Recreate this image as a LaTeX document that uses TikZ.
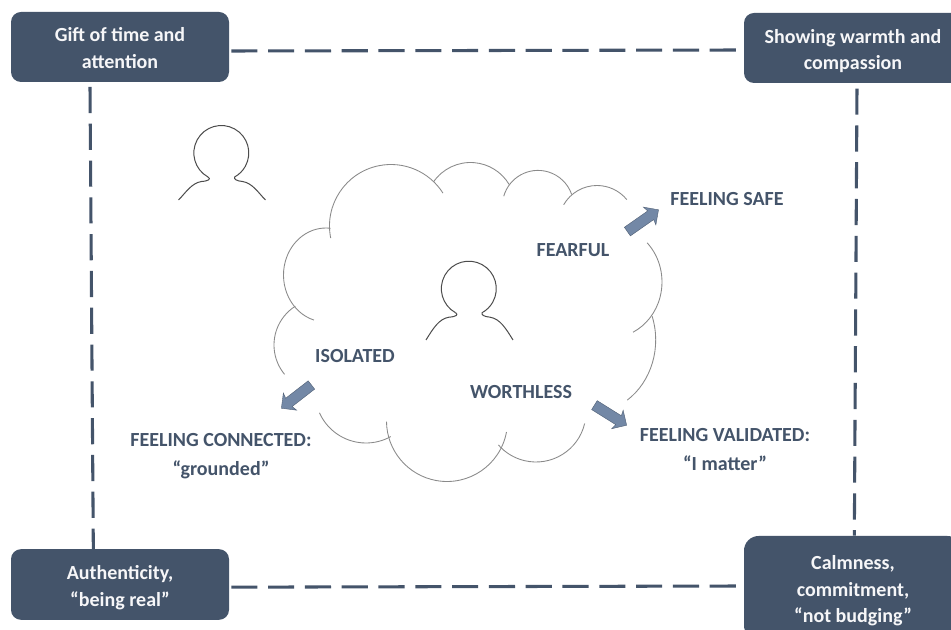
\documentclass[tikz,border=0pt]{standalone}
\usepackage{fontspec}
\setmainfont{Carlito}
\usetikzlibrary{shapes.arrows}
\definecolor{navy}{HTML}{44546A}
\definecolor{arrowblue}{HTML}{7388A6}
\definecolor{cloudline}{HTML}{8A8A8A}
\newcommand\lobe[6]{\draw[cloud] (#1,#2) ++(#5:#3 and #4) arc[start angle=#5,end angle=#6,x radius=#3,y radius=#4];}
\tikzset{
  x=0.75pt,y=-0.75pt,
  box/.style={draw=none,fill=navy,rounded corners=7.5pt,inner sep=0pt,minimum width=163.5pt},
  boxtext/.style={inner sep=0pt,text=white!95!navy,align=center,font=\fontsize{15}{20}\selectfont\bfseries},
  label/.style={text=navy,align=center,inner sep=0pt,font=\fontsize{15}{21.75}\selectfont\bfseries},
  link/.style={draw=navy,line width=2.3pt,dash pattern=on 19.6pt off 8pt},
  cloud/.style={draw=cloudline,line width=0.65pt},
  head/.style={draw=black!70,line width=0.75pt,line join=round},
  blockarrow/.style={single arrow,fill=arrowblue,draw=arrowblue!70!black,line width=0.3pt,inner sep=3.8pt,single arrow head extend=4.2pt,single arrow head indent=1pt,minimum height=28.5pt,minimum width=16pt},
  person/.pic={
    \draw[head] (-14.5,26) arc[start angle=241,end angle=-61,radius=20.6pt]
      .. controls (11,28) and (14,30) .. (20,30.5)
      .. controls (30,32) and (36,42) .. (43,#1);
    \draw[head] (-14.5,26) .. controls (-11,28) and (-14,30) .. (-21,30.5)
      .. controls (-31,32) and (-37,42) .. (-44,#1);
  }
}
\begin{document}
\begin{tikzpicture}
\useasboundingbox (0,0) rectangle (951,630);
\clip (0,0) rectangle (951,630);
\fill[white] (0,0) rectangle (951,630);

\node[box,minimum height=52.5pt] (tl) at (120,47) {};
\node[box,minimum height=52.5pt] (tr) at (853,48) {};
\node[box,minimum height=53pt] (bl) at (120,584.5) {};
\node[box,minimum height=78pt,rounded corners=11pt] (br) at (853,588) {};
\node[boxtext,yshift=-0.75pt] (tltext) at (tl) {Gift of time and\\attention};
\node[boxtext,yshift=-2.2pt] (trtext) at (tr) {Showing warmth and\\compassion};
\node[boxtext,yshift=-2.2pt] (bltext) at (bl) {Authenticity,\\“being real”};
\node[boxtext,yshift=-2.2pt] (brtext) at (br) {Calmness,\\commitment,\\“not budging”};

\draw[link] ([xshift=1.5pt,yshift=-3pt]tl.east) -- ([yshift=-1.5pt]tr.west);
\draw[link] ([xshift=1.5pt,yshift=-2pt]bl.east) -- ([yshift=1.5pt]br.west);
\draw[link] ([xshift=-22.5pt,yshift=-3.5pt]tl.south) -- ([xshift=-20pt]bl.north);
\draw[link] ([xshift=3pt,yshift=-4pt]tr.south) -- ([xshift=1pt]br.north);

% cloud lobes: centre x, centre y, radii, start and end parameter
\lobe{391}{226}{61.5}{61.5}{168.6}{327.7}
\lobe{470.5}{207.5}{45}{45}{214.7}{329.2}
\lobe{538}{206}{35.6}{35.6}{196}{341}
\lobe{597}{224}{38.5}{38.5}{210}{320.6}
\lobe{610}{282}{52}{56}{-44.4}{63.7}
\lobe{590}{340}{65.7}{73}{-19}{55.4}
\lobe{536}{412}{50}{50}{13.4}{138.8}
\lobe{447}{421}{60.5}{60.5}{10.5}{179.3}
\lobe{366}{392}{51}{51}{61}{155.9}
\lobe{320}{345}{46}{46}{140.4}{237.5}
\lobe{326}{275}{42.5}{47}{106.5}{276.3}

\pic at (470,286.7) {person=53.3};
\pic at (222.5,151) {person=49};

\node[label] (safe) at (727,199) {FEELING SAFE};
\node[label] (fearful) at (573,250.5) {FEARFUL};
\node[label] (isolated) at (355,356.5) {ISOLATED};
\node[label] (worthless) at (521,392.5) {WORTHLESS};
\node[label] (connected) at (221,456.5) {FEELING CONNECTED:\\“grounded”};
\node[label] (validated) at (725,450) {FEELING VALIDATED:\\“I matter”};

\node[blockarrow,rotate=35] (a1) at (640.8,222.2) {};
\node[blockarrow,rotate=217.8] (a2) at (298.5,395) {};
\node[blockarrow,rotate=-32] (a3) at (608.3,413.8) {};
\end{tikzpicture}
\end{document}
